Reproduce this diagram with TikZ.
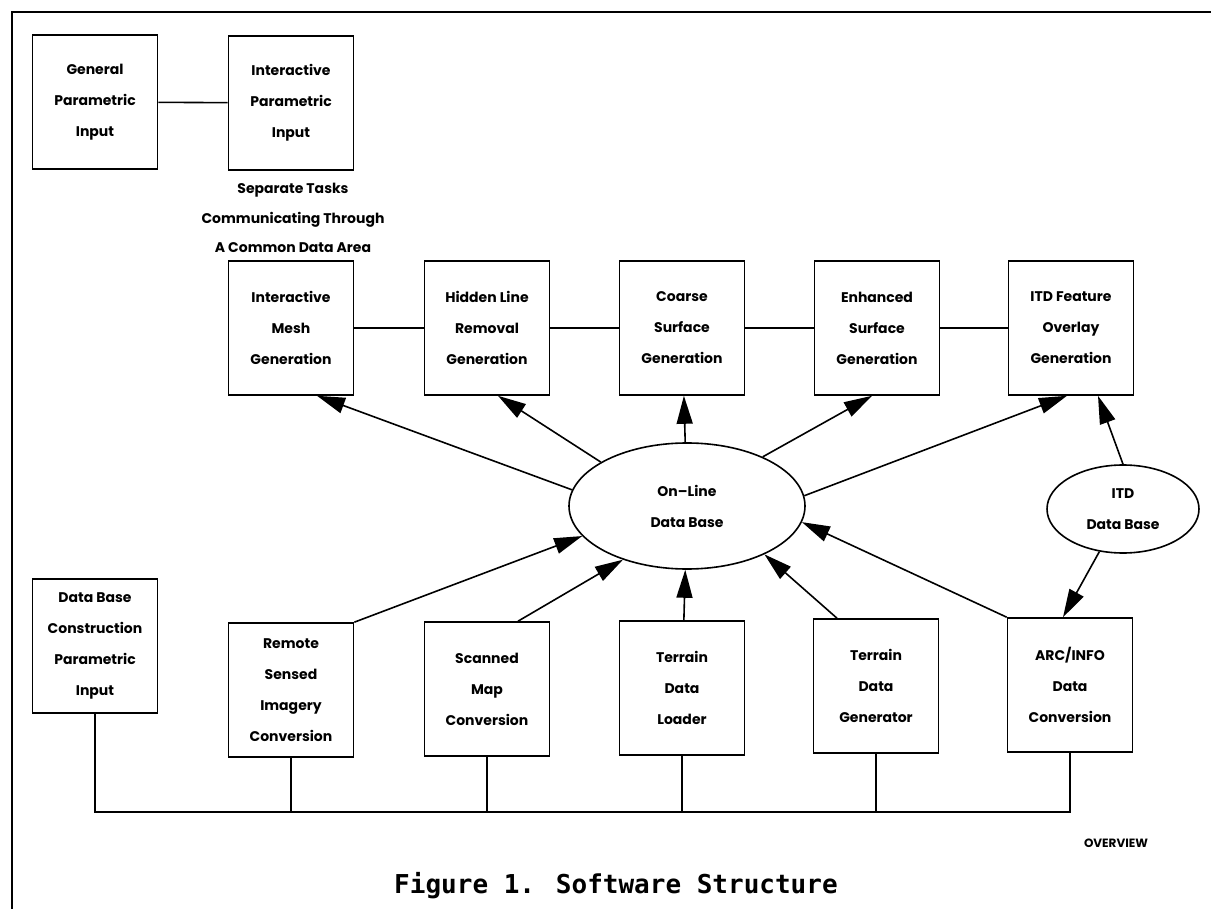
\documentclass[tikz,border=0pt]{standalone}
\usepackage{fontspec}
\setmainfont{Poppins}
\newfontfamily\capfont{DejaVu Sans Mono}
\usetikzlibrary{arrows.meta, shapes.geometric}

\begin{document}
\begin{tikzpicture}[x=1pt, y=-1pt,
  box/.style={draw, line width=1.6pt, minimum width=125pt, minimum height=134pt,
    inner sep=0pt, align=center, font=\bfseries\fontsize{14}{31}\selectfont},
  dbase/.style={draw, ellipse, line width=1.6pt, inner sep=0pt, align=center,
    font=\bfseries\fontsize{14}{31}\selectfont},
  arr/.style={line width=1.6pt, -{Triangle[length=28pt, width=16pt]}},
  wire/.style={line width=1.6pt}]
  \useasboundingbox (0,0) rectangle (1211,909);
  % page frame
  \draw[line width=2.5pt] (12,915) -- (12,12) -- (1215,12);

  % parametric input tasks
  \node[box] (gpi) at (95,102) {General\\Parametric\\Input};
  \node[box] (ipi) at (291,103) {Interactive\\Parametric\\Input};
  \draw[wire] (gpi) -- (ipi);
  \node[align=center, font=\bfseries\fontsize{14}{29.5}\selectfont] (note) at (293,218)
    {Separate Tasks\\Communicating Through\\A Common Data Area};

  % generation tasks
  \node[box] (mesh) at (291,328) {Interactive\\Mesh\\Generation};
  \node[box] (hlr) at (487,328) {Hidden Line\\Removal\\Generation};
  \node[box] (csg) at (682,328) {Coarse\\Surface\\Generation};
  \node[box] (esg) at (877,328) {Enhanced\\Surface\\Generation};
  \node[box] (itdf) at (1071,328) {ITD Feature\\Overlay\\Generation};
  \draw[wire] (mesh) -- (hlr);
  \draw[wire] (hlr) -- (csg);
  \draw[wire] (csg) -- (esg);
  \draw[wire] (esg) -- (itdf);

  % data bases
  \node[dbase, minimum width=236pt, minimum height=126pt] (ol) at (687,506) {On--Line\\Data Base};
  \node[dbase, minimum width=152pt, minimum height=88pt] (itddb) at (1123,509) {ITD\\Data Base};

  \draw[arr] (ol.172) -- ([xshift=26pt]mesh.south);
  \draw[arr] (ol.153) -- ([xshift=11pt]hlr.south);
  \draw[arr] (ol) -- (csg);
  \draw[arr] (ol.33) -- ([xshift=-5pt]esg.south);
  \draw[arr] (ol.5) -- ([xshift=-4pt]itdf.south);
  \draw[arr] (itddb.north) -- ([xshift=27pt]itdf.south);

  % data conversion tasks
  \node[box] (dbc) at (95,646) {Data Base\\Construction\\Parametric\\Input};
  \node[box] (rsi) at (291,690) {Remote\\Sensed\\Imagery\\Conversion};
  \node[box] (smc) at (487,689) {Scanned\\Map\\Conversion};
  \node[box] (tdl) at (682,688) {Terrain\\Data\\Loader};
  \node[box] (tdg) at (876,686) {Terrain\\Data\\Generator};
  \node[box] (arc) at (1070,685) {ARC/INFO\\Data\\Conversion};

  \draw[arr] (rsi.north east) -- (ol.196);
  \draw[arr] ([xshift=31pt]smc.north) -- (ol.220);
  \draw[arr] (tdl) -- (ol);
  \draw[arr] ([xshift=-39pt]tdg.north) -- (ol.328);
  \draw[arr] (arc.north west) -- (ol.352);
  \draw[arr] (itddb) -- ([xshift=-7pt]arc.north);

  % common bus
  \coordinate (busw) at (95,812);
  \coordinate (buse) at (1070,812);
  \draw[wire] (dbc.south) -- (busw) -- (buse) -- (arc.south);
  \draw[wire] (rsi.south) -- (rsi.south |- busw);
  \draw[wire] (smc.south) -- (smc.south |- busw);
  \draw[wire] (tdl.south) -- (tdl.south |- busw);
  \draw[wire] (tdg.south) -- (tdg.south |- busw);

  \node[font=\bfseries\fontsize{12}{14}\selectfont] (ovw) at (1116,843) {OVERVIEW};
  \node[anchor=base, font=\capfont\bfseries\fontsize{26}{30}\selectfont] (cap) at (616,893)
    {Figure 1. Software Structure};
\end{tikzpicture}
\end{document}
